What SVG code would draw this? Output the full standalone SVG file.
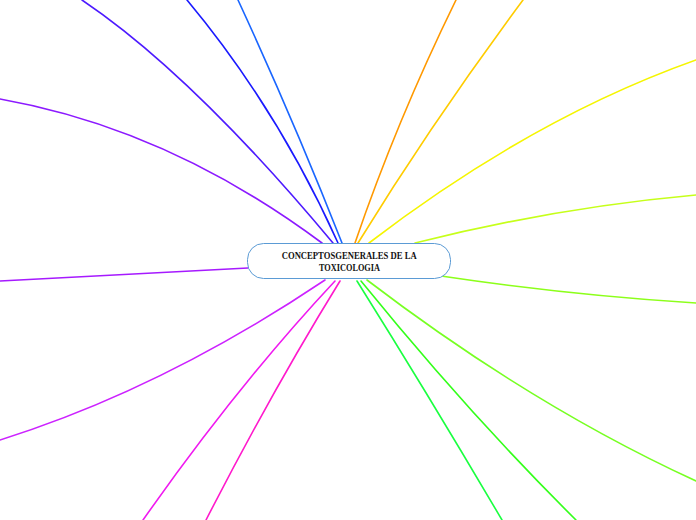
<svg xmlns="http://www.w3.org/2000/svg" width="696" height="520" viewBox="0 0 696 520">
<style>
.c{fill:none;stroke-width:1.6;stroke-linecap:round}
.n{fill:#ffffff;stroke:#5b9bd5;stroke-width:1}
.t{font-family:"Liberation Serif",serif;font-size:11px;font-weight:bold;fill:#111111;text-anchor:middle}
</style>
<rect width="696" height="520" fill="#ffffff"/>
<g id="connectors">
<path class="c" stroke="#8c1aff" d="M322,243 Q169,129 0,99"/>
<path class="c" stroke="#4d1aff" d="M333,243 Q192.5,74.5 82,0"/>
<path class="c" stroke="#1a1aff" d="M338,243 Q277.5,108.5 187,0"/>
<path class="c" stroke="#1a66ff" d="M342,243 Q294,121 238,0"/>
<path class="c" stroke="#ff9900" d="M355,243 Q396.5,121.5 456,0"/>
<path class="c" stroke="#ffcc00" d="M358,243 Q432.7,121.5 523,0"/>
<path class="c" stroke="#f5f500" d="M369,243 Q531.5,118.5 696,60"/>
<path class="c" stroke="#c6ff1a" d="M415,243 Q555.5,207.6 696,195"/>
<path class="c" stroke="#8cff1a" d="M441,276 Q568.5,295 696,303"/>
<path class="c" stroke="#77ff22" d="M367,280 Q531.5,405.5 696,481"/>
<path class="c" stroke="#33ff1a" d="M361,281 Q468.5,413.5 576,520"/>
<path class="c" stroke="#1aff40" d="M357,281 Q430,397.5 502,520"/>
<path class="c" stroke="#a61aff" d="M248,268 Q124,275 0,281"/>
<path class="c" stroke="#cc22ff" d="M325,280 Q162.5,389 0,440"/>
<path class="c" stroke="#f01af0" d="M335,281 Q239,383.5 143,520"/>
<path class="c" stroke="#ff1acc" d="M340,281 Q273,389.5 206,520"/>
</g>
<g id="center">
<rect class="n" x="247.5" y="243.5" width="203" height="35" rx="16" ry="16"/>
<text class="t" x="349.2" y="259" textLength="135" lengthAdjust="spacingAndGlyphs">CONCEPTOSGENERALES DE LA</text>
<text class="t" x="349.5" y="270.7" textLength="61" lengthAdjust="spacingAndGlyphs">TOXICOLOGIA</text>
</g>
</svg>
